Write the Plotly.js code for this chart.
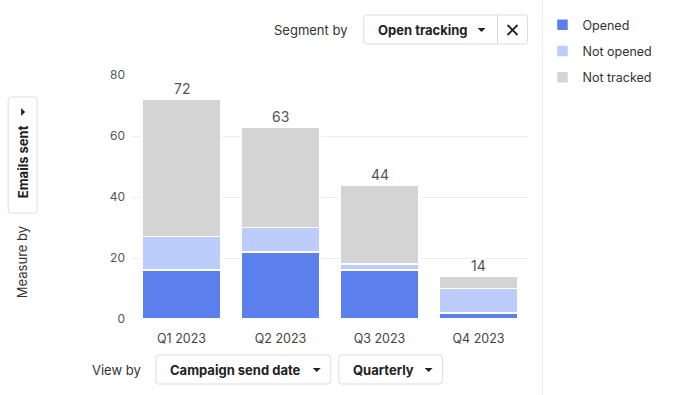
<!DOCTYPE html>
<html><head><meta charset="utf-8">
<script src="https://cdn.plot.ly/plotly-3.0.1.min.js"></script>
<style>html,body{margin:0;padding:0;background:#fff;}#c{width:677px;height:395px;}</style>
</head><body><div id="c"></div>
<script>
var categories = ["Q1 2023", "Q2 2023", "Q3 2023", "Q4 2023"];
var seriesNames = ["Opened", "Not opened", "Not tracked"];
var opened = [16, 22, 16, 2];
var notOpened = [11, 8, 2, 8];
var notTracked = [45, 33, 26, 4];
var colors = ["#5b80ee", "#bccdfb", "#d4d4d4"];
var yTicks = [0, 20, 40, 60, 80];

var W = 677, H = 395, L = 132, R = 148.5, T = 75, B = 76;
var pw = W - L - R, ph = H - T - B;
function px(x){ return (x - L) / pw; }
function py(y){ return (H - B - y) / ph; }

var series = [opened, notOpened, notTracked];
var traces = series.map(function(v, i){
  return {type:"bar", x:categories, y:v, name:seriesNames[i], legendgroup:"g"+i,
    marker:{color:colors[i], line:{color:"#ffffff", width:1.5}}, hoverinfo:"skip"};
});
var totals = categories.map(function(c, j){ return opened[j] + notOpened[j] + notTracked[j]; });

var FONT = "Inter, 'Noto Sans', sans-serif";
var ann = totals.map(function(t, j){
  return {x:categories[j], y:t, xref:"x", yref:"y", text:String(t), showarrow:false,
    yanchor:"bottom", yshift:0, font:{family:FONT, size:14, color:"#555"}};
});
function label(text, x, y, opts){
  opts = opts || {};
  return {xref:"paper", yref:"paper", x:px(x), y:py(y), text:text, showarrow:false,
    xanchor:opts.xanchor || "center", yanchor:"middle", textangle:opts.angle || 0,
    font:{family:FONT, size:opts.size || 13, color:opts.color || "#333"}};
}
ann.push(label("Segment by", 311, 30));
ann.push(label("<b>Open tracking</b>", 423, 30, {color:"#222"}));
ann.push(label("View by", 116, 370));
ann.push(label("<b>Campaign send date</b>", 236, 370, {color:"#222"}));
ann.push(label("<b>Quarterly</b>", 384, 370, {color:"#222"}));
ann.push(label("Measure by", 22, 262, {angle:-90}));
ann.push(label("<b>Emails sent</b>", 23, 162, {angle:-90, color:"#222"}));

function rrect(x0, y0, x1, y1, r){
  function P(x, y){ return px(x) + "," + py(y); }
  return "M" + P(x0 + r, y0) + " L" + P(x1 - r, y0) + " Q" + P(x1, y0) + " " + P(x1, y0 + r) +
    " L" + P(x1, y1 - r) + " Q" + P(x1, y1) + " " + P(x1 - r, y1) +
    " L" + P(x0 + r, y1) + " Q" + P(x0, y1) + " " + P(x0, y1 - r) +
    " L" + P(x0, y0 + r) + " Q" + P(x0, y0) + " " + P(x0 + r, y0) + " Z";
}
function box(x0, y0, x1, y1){
  return {type:"path", xref:"paper", yref:"paper", path:rrect(x0, y0, x1, y1, 3),
    line:{color:"#dcdcdc", width:1}, fillcolor:"#ffffff", layer:"above"};
}
function tri(x, y, dir){
  var p;
  if (dir === "right") p = [[x-2,y-4],[x-2,y+4],[x+2,y]];
  else p = [[x-4,y-2],[x+4,y-2],[x,y+2]];
  return {type:"path", xref:"paper", yref:"paper",
    path:"M" + p.map(function(q){ return px(q[0]) + "," + py(q[1]); }).join(" L") + " Z",
    fillcolor:"#222", line:{width:0}, layer:"above"};
}
function seg(x0, y0, x1, y1, color, w){
  return {type:"line", xref:"paper", yref:"paper", x0:px(x0), y0:py(y0), x1:px(x1), y1:py(y1),
    line:{color:color, width:w}, layer:"above"};
}
var shapes = [
  seg(543, 0, 543, 395, "#ececec", 1),
  box(364, 15, 528, 44),
  seg(498, 15, 498, 44, "#dcdcdc", 1),
  tri(482, 30),
  seg(508, 25, 518, 35, "#222", 1.8),
  seg(518, 25, 508, 35, "#222", 1.8),
  box(156, 355, 331, 384),
  tri(317, 370),
  box(339, 355, 443, 384),
  tri(429, 370),
  box(8, 97, 37, 213),
  tri(23, 112, "right")
];

var layout = {
  width:W, height:H, margin:{l:L, r:R, t:T, b:B, autoexpand:false},
  paper_bgcolor:"#ffffff", plot_bgcolor:"#ffffff",
  barmode:"stack", bargap:0.2,
  font:{family:FONT, size:12, color:"#555"},
  xaxis:{type:"category", showgrid:false, zeroline:false, showline:false, ticks:"",
    ticklabelstandoff:10, automargin:false,
    tickfont:{family:FONT, size:12.5, color:"#444"}, fixedrange:true},
  yaxis:{range:[0, 80], tickvals:yTicks, showgrid:true, gridcolor:"#eeeeee", gridwidth:1,
    zeroline:false, showline:false, ticks:"", ticklabelstandoff:6, automargin:false,
    tickfont:{family:FONT, size:12, color:"#555"}, fixedrange:true},
  showlegend:true,
  legend:{x:px(543), y:py(10), xanchor:"left", yanchor:"top", traceorder:"grouped",
    tracegroupgap:7, font:{family:FONT, size:12.5, color:"#333"}, bgcolor:"rgba(0,0,0,0)"},
  annotations:ann, shapes:shapes
};
Plotly.newPlot("c", traces, layout, {displayModeBar:false, staticPlot:true});
</script></body></html>
